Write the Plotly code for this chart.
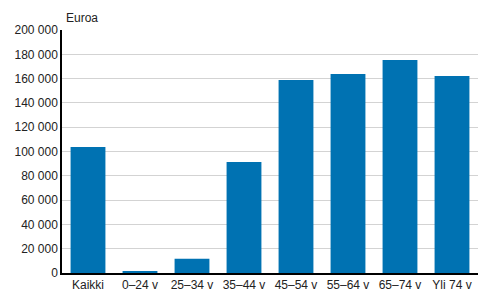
import plotly.graph_objects as go

categories = ["Kaikki", "0–24 v", "25–34 v", "35–44 v", "45–54 v", "55–64 v", "65–74 v", "Yli 74 v"]
values = [103700, 1600, 11800, 91400, 158800, 163800, 175300, 162100]
y_ticks = [0, 20000, 40000, 60000, 80000, 100000, 120000, 140000, 160000, 180000, 200000]

fig = go.Figure(go.Bar(x=categories, y=values, marker_color="#0072B2", marker_line_width=0))

W, H = 492, 303
ml, mr, mt, mb = 62, 14, 30, 30
fig.update_layout(
    width=W, height=H,
    margin=dict(l=ml, r=mr, t=mt, b=mb),
    paper_bgcolor="white", plot_bgcolor="white",
    separators=", ",
    bargap=0.33,
    showlegend=False,
    font=dict(family="Liberation Sans, Arial, sans-serif", size=12, color="#222222"),
)
fig.update_xaxes(
    range=[-0.5, 7.5], showline=True, linecolor="black", linewidth=1.5,
    ticks="", showgrid=False, tickfont=dict(size=12),
)
fig.update_yaxes(
    range=[0, 200000], tickvals=y_ticks, tickformat=",d",
    showline=True, linecolor="black", linewidth=1.5,
    gridcolor="#d3d3d3", gridwidth=1, ticks="", zeroline=False,
    tickfont=dict(size=12),
)
fig.add_annotation(text="Euroa", xref="paper", yref="paper", x=0, y=1, xshift=2, yshift=12,
                   xanchor="left", yanchor="middle", showarrow=False, font=dict(size=12))
fig.write_html("out.html")
